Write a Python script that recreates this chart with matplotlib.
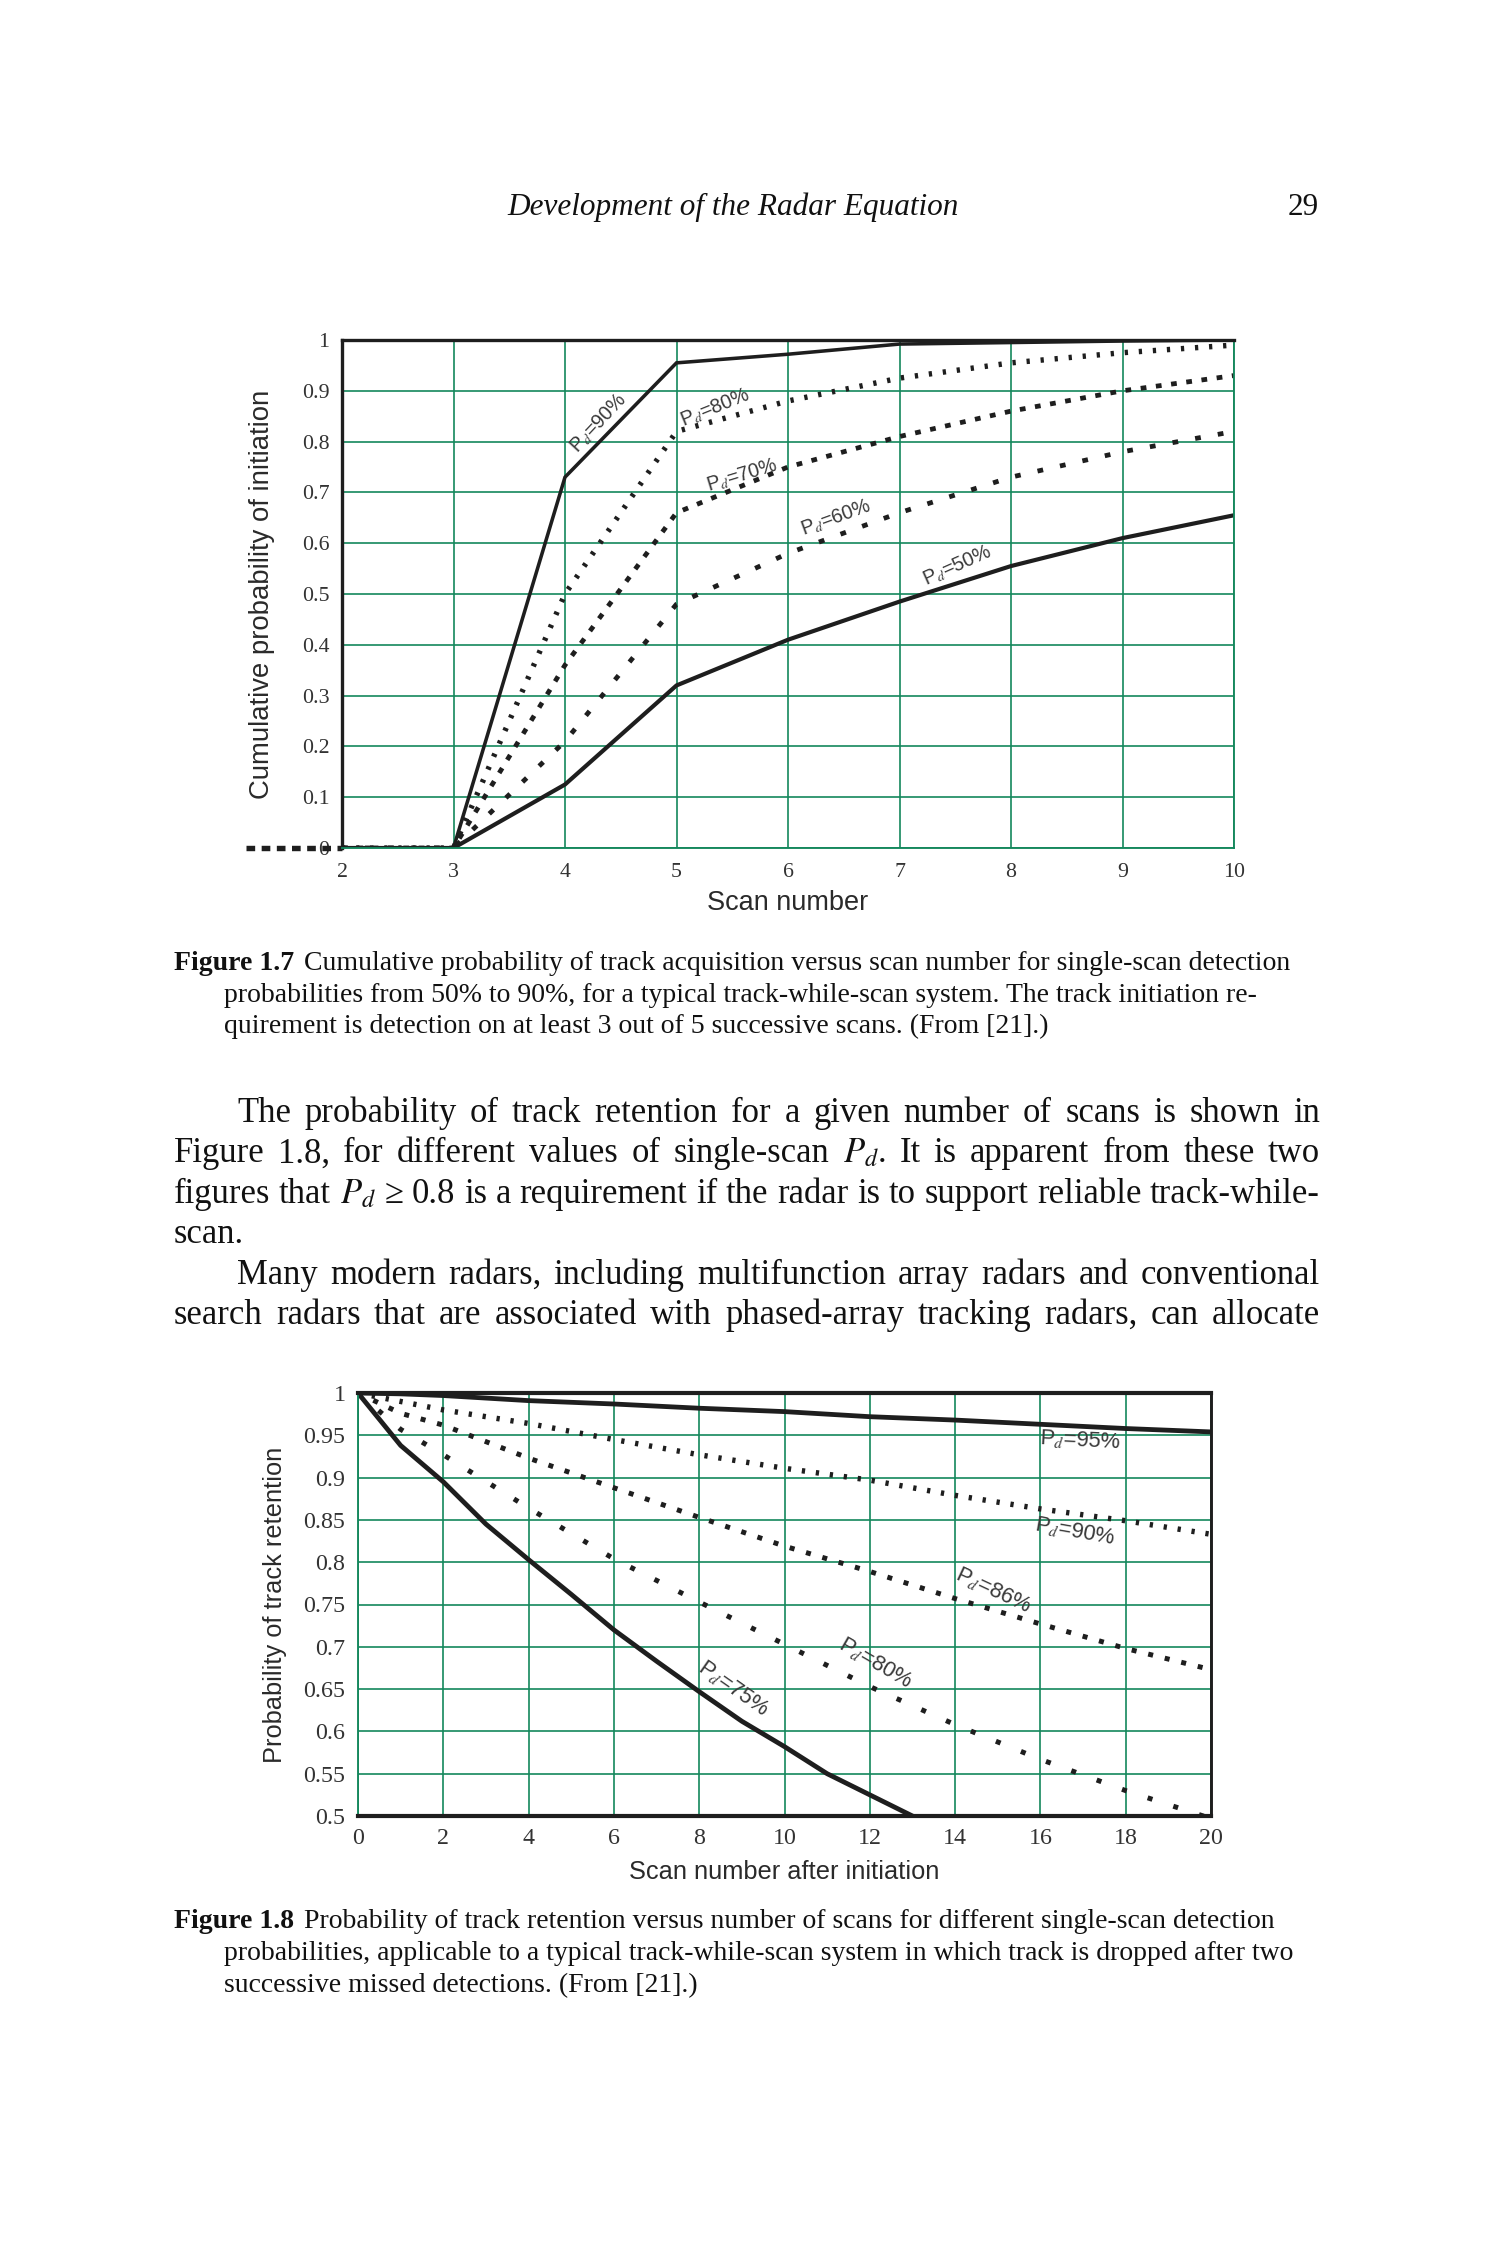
import matplotlib
matplotlib.use("Agg")
import matplotlib.pyplot as plt
import numpy as np

plt.rcParams['font.family'] = ['Liberation Serif', 'DejaVu Serif']
plt.rcParams['mathtext.fontset'] = 'stix'

# ---------------- data ----------------
scan = [2, 3, 4, 5, 6, 7, 8, 9, 10]
init_p90 = [0, 0, 0.73, 0.955, 0.972, 0.992, 0.995, 0.998, 1.0]
init_p80 = [0, 0, 0.50, 0.82, 0.88, 0.925, 0.955, 0.975, 0.99]
init_p70 = [0, 0, 0.36, 0.66, 0.75, 0.81, 0.86, 0.90, 0.93]
init_p60 = [0, 0, 0.21, 0.48, 0.58, 0.66, 0.73, 0.78, 0.82]
init_p50 = [0, 0, 0.125, 0.32, 0.41, 0.485, 0.555, 0.61, 0.655]
lead_x = [1.14, 2]
lead_y = [0, 0]
init_labels = ['90%', '80%', '70%', '60%', '50%']
init_label_x = [4.30, 5.35, 5.59, 6.43, 7.52]
init_label_y = [0.837, 0.866, 0.733, 0.650, 0.555]
init_label_rot = [47, 22, 17, 20, 24]
init_xticks = [2, 3, 4, 5, 6, 7, 8, 9, 10]
init_yticks = [0, 0.1, 0.2, 0.3, 0.4, 0.5, 0.6, 0.7, 0.8, 0.9, 1]
init_yticklabels = ['0', '0.1', '0.2', '0.3', '0.4', '0.5', '0.6', '0.7', '0.8', '0.9', '1']

ret_x = [0, 1, 2, 4, 6, 8, 10, 12, 14, 16, 18, 20]
ret_p95 = [1, 0.999, 0.997, 0.991, 0.987, 0.982, 0.978, 0.972, 0.968, 0.963, 0.958, 0.954]
ret_p90 = [1, 0.99, 0.98, 0.964, 0.945, 0.927, 0.911, 0.897, 0.879, 0.863, 0.849, 0.833]
ret_p86 = [1, 0.976, 0.962, 0.923, 0.888, 0.853, 0.819, 0.789, 0.757, 0.727, 0.698, 0.673]
ret_p80 = [1, 0.957, 0.927, 0.864, 0.804, 0.753, 0.703, 0.653, 0.608, 0.567, 0.53, 0.497]
ret75_x = [0, 1, 2, 3, 4, 5, 6, 7, 8, 9, 10, 11, 12, 13]
ret_p75 = [1, 0.938, 0.895, 0.845, 0.803, 0.762, 0.72, 0.683, 0.647, 0.612, 0.582, 0.55, 0.525, 0.5]
ret_labels = ['95%', '90%', '86%', '80%', '75%']
ret_label_x = [16.93, 16.8, 14.9, 12.14, 8.8]
ret_label_y = [0.944, 0.837, 0.767, 0.681, 0.651]
ret_label_rot = [-3, -10, -25, -30, -35]
ret_xticks = [0, 2, 4, 6, 8, 10, 12, 14, 16, 18, 20]
ret_yticks = [0.5, 0.55, 0.6, 0.65, 0.7, 0.75, 0.8, 0.85, 0.9, 0.95, 1]
ret_yticklabels = ['0.5', '0.55', '0.6', '0.65', '0.7', '0.75', '0.8', '0.85', '0.9', '0.95', '1']

header = 'Development of the Radar Equation'
page_no = '29'
cap17 = ['Cumulative probability of track acquisition versus scan number for single-scan detection',
         'probabilities from 50% to 90%, for a typical track-while-scan system. The track initiation re-',
         'quirement is detection on at least 3 out of 5 successive scans. (From [21].)']
body = [('The probability of track retention for a given number of scans is shown in', True, True),
        ('Figure 1.8, for different values of single-scan $P_d$. It is apparent from these two', False, True),
        ('figures that $P_d$ \u2265 0.8 is a requirement if the radar is to support reliable track-while-', False, True),
        ('scan.', False, False),
        ('Many modern radars, including multifunction array radars and conventional', True, True),
        ('search radars that are associated with phased-array tracking radars, can allocate', False, True)]
cap18 = ['Probability of track retention versus number of scans for different single-scan detection',
         'probabilities, applicable to a typical track-while-scan system in which track is dropped after two',
         'successive missed detections. (From [21].)']

W, H = 1500, 2250
GREEN = '#14875c'
INK = '#1e1e1e'
SANS = ['Liberation Sans', 'DejaVu Sans']

fig = plt.figure(figsize=(10, 15), dpi=150)
fig.patch.set_facecolor('white')

def fx(px):
    return px / W

def fy(py):
    return 1 - py / H

# ---------------- top chart ----------------
ax1 = fig.add_axes([fx(342), fy(848), fx(1234 - 342), (848 - 340) / H])
ax1.set_xlim(2, 10)
ax1.set_ylim(0, 1)
ax1.set_xticks(init_xticks)
ax1.set_xticklabels([str(t) for t in init_xticks])
ax1.set_yticks(init_yticks)
ax1.set_yticklabels(init_yticklabels)
ax1.grid(True, color=GREEN, lw=0.8)
ax1.set_axisbelow(True)
ax1.tick_params(length=0, labelsize=10.5, colors='#333333')
ax1.tick_params(axis='x', pad=7)
ax1.tick_params(axis='y', pad=6)
for s in ['top', 'left']:
    ax1.spines[s].set_color(INK)
    ax1.spines[s].set_linewidth(1.6)
for s in ['right', 'bottom']:
    ax1.spines[s].set_color(GREEN)
    ax1.spines[s].set_linewidth(0.9)

ax1.plot(scan, init_p90, color=INK, lw=1.7, solid_joinstyle='miter')
ax1.plot(scan, init_p80, color=INK, lw=2.6, ls=(0, (0.6, 2.0)))
ax1.plot(scan, init_p70, color=INK, lw=2.3, ls=(0, (1.2, 2.0)))
ax1.plot(scan, init_p60, color=INK, lw=2.3, ls=(0, (1.2, 3.6)))
ax1.plot(scan, init_p50, color=INK, lw=2.0)
ax1.plot(lead_x, lead_y, color=INK, lw=2.6, ls=(0, (1.6, 1.2)), clip_on=False)
for lab, x, y, r in zip(init_labels, init_label_x, init_label_y, init_label_rot):
    ax1.text(x, y, 'P$_{d}$=' + lab, fontsize=9.5, family=SANS, color='#3a3a3a',
             rotation=r, rotation_mode='anchor', ha='center', va='center')
ax1.set_xlabel('Scan number', fontsize=13, family=SANS, color='#2a2a2a', labelpad=4)
ax1.set_ylabel('Cumulative probability of initiation', fontsize=13.2, family=SANS,
               color='#2a2a2a', labelpad=13)

# ---------------- bottom chart ----------------
ax2 = fig.add_axes([fx(358), fy(1816), fx(1211 - 358), (1816 - 1393) / H])
ax2.set_xlim(0, 20)
ax2.set_ylim(0.5, 1)
ax2.set_xticks(ret_xticks)
ax2.set_xticklabels([str(t) for t in ret_xticks])
ax2.set_yticks(ret_yticks)
ax2.set_yticklabels(ret_yticklabels)
ax2.grid(True, color=GREEN, lw=0.8)
ax2.set_axisbelow(True)
ax2.tick_params(length=0, labelsize=11.5, colors='#333333')
ax2.tick_params(axis='x', pad=6)
ax2.tick_params(axis='y', pad=6)
for s in ['top', 'bottom']:
    ax2.spines[s].set_color(INK)
    ax2.spines[s].set_linewidth(2.0)
ax2.spines['right'].set_color(INK)
ax2.spines['right'].set_linewidth(1.4)
ax2.spines['left'].set_color(GREEN)
ax2.spines['left'].set_linewidth(0.9)

ax2.plot(ret_x, ret_p95, color=INK, lw=2.3)
ax2.plot(ret_x, ret_p90, color=INK, lw=2.6, ls=(0, (0.6, 2.0)))
ax2.plot(ret_x, ret_p86, color=INK, lw=2.4, ls=(0, (1.0, 2.4)))
ax2.plot(ret_x, ret_p80, color=INK, lw=2.4, ls=(0, (1.0, 4.4)))
ax2.plot(ret75_x, ret_p75, color=INK, lw=2.3)
for lab, x, y, r in zip(ret_labels, ret_label_x, ret_label_y, ret_label_rot):
    ax2.text(x, y, 'P$_{d}$=' + lab, fontsize=10.5, family=SANS, color='#3a3a3a',
             rotation=r, rotation_mode='anchor', ha='center', va='center')
ax2.set_xlabel('Scan number after initiation', fontsize=12.2, family=SANS, color='#2a2a2a', labelpad=5)
ax2.set_ylabel('Probability of track retention', fontsize=12.2, family=SANS,
               color='#2a2a2a', labelpad=8)

# ---------------- page text ----------------
renderer = fig.canvas.get_renderer()

def width_px(t):
    return t.get_window_extent(renderer=renderer).width

fig.text(fx(733), fy(215), header, fontsize=15, style='italic', ha='center',
         va='baseline', color='#111111')
fig.text(fx(1319), fy(215), page_no, fontsize=15, ha='right', va='baseline', color='#111111')

def caption(title, lines, y0, dy, size=13.35):
    t = fig.text(fx(174), fy(y0), title, fontsize=size, weight='bold', va='baseline', color='#111111')
    w = width_px(t)
    for i, line in enumerate(lines):
        x = 174 + w + 10 if i == 0 else 224
        fig.text(fx(x), fy(y0 + i * dy), line, fontsize=size, va='baseline', color='#111111')

caption('Figure 1.7', cap17, 970, 31.7)
caption('Figure 1.8', cap18, 1928, 32.3)

def justified(line, y, left, right, size, justify):
    words = line.split(' ')
    texts = [fig.text(0, fy(y), wd, fontsize=size, va='baseline', color='#111111') for wd in words]
    widths = [width_px(t) for t in texts]
    if justify and len(words) > 1:
        gap = (right - left - sum(widths)) / (len(words) - 1)
    else:
        gap = size * 150 / 72 * 0.25
    x = left
    for t, w in zip(texts, widths):
        t.set_x(fx(x))
        x += w + gap

BODY_SIZE = 16.6
y = 1122
for line, indent, just in body:
    left = 237 if indent else 174
    justified(line, y, left, 1320, BODY_SIZE, just)
    y += 40.4

fig.savefig('out.png', dpi=150, facecolor='white')
